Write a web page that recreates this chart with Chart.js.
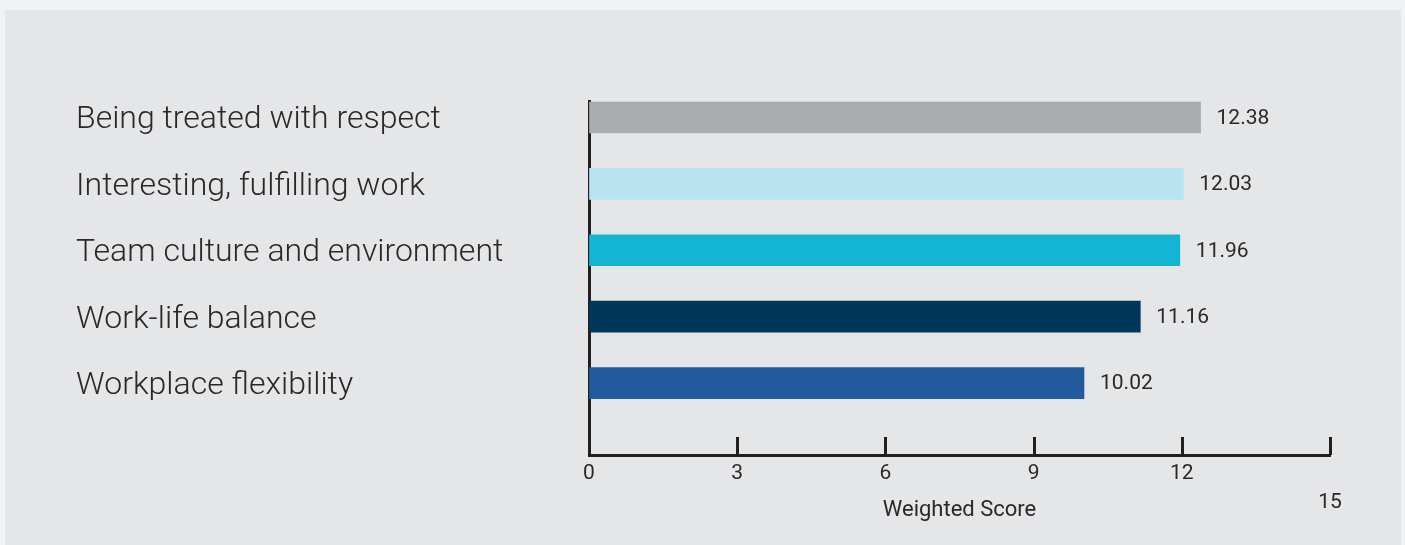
<!DOCTYPE html>
<html>
<head>
<meta charset="utf-8">
<script src="https://cdn.jsdelivr.net/npm/chart.js@4.4.1/dist/chart.umd.min.js"></script>
<style>
  html, body { margin: 0; padding: 0; background: #eef4f4; }
  #wrap { position: absolute; left: 0; top: 0; width: 1405px; height: 545px; }
</style>
</head>
<body>
<div id="wrap"><canvas id="c" width="1405" height="545"></canvas></div>
<script>
const categories = [
  'Being treated with respect',
  'Interesting, fulfilling work',
  'Team culture and environment',
  'Work-life balance',
  'Workplace flexibility'
];
const scores = [12.38, 12.03, 11.96, 11.16, 10.02];
const barColors = ['#abacae', '#b8e3f0', '#12b5d3', '#01375b', '#215b9d'];
const xTickValues = [0, 3, 6, 9, 12, 15];
const xTitle = 'Weighted Score';

const INK = '#231f20';
const TEXT = '#2a2829';

const panelBg = {
  id: 'panelBg',
  beforeDraw(chart) {
    const ctx = chart.ctx;
    ctx.save();
    ctx.fillStyle = '#e5e6e8';
    ctx.fillRect(5, 10, 1396, 535);
    ctx.restore();
  }
};

const innerTicks = {
  id: 'innerTicks',
  afterDraw(chart) {
    const xs = chart.scales.x;
    const ctx = chart.ctx;
    const bottom = chart.chartArea.bottom;
    ctx.save();
    ctx.strokeStyle = INK;
    ctx.lineWidth = 3;
    xs.ticks.forEach(t => {
      const px = Math.round(xs.getPixelForValue(t.value)) + 0.5;
      ctx.beginPath();
      ctx.moveTo(px, bottom);
      ctx.lineTo(px, bottom - 18);
      ctx.stroke();
    });
    ctx.restore();
  }
};

const valueLabels = {
  id: 'valueLabels',
  afterDatasetsDraw(chart) {
    const ctx = chart.ctx;
    const meta = chart.getDatasetMeta(0);
    ctx.save();
    ctx.font = '400 21px Roboto';
    ctx.fillStyle = TEXT;
    ctx.textAlign = 'left';
    ctx.textBaseline = 'middle';
    meta.data.forEach((bar, i) => {
      ctx.fillText(scores[i].toFixed(2), bar.x + 16, bar.y + 1);
    });
    ctx.restore();
  }
};

new Chart(document.getElementById('c'), {
  type: 'bar',
  data: {
    datasets: [{
      data: scores.map((v, i) => ({ x: v, y: i })),
      backgroundColor: barColors,
      borderWidth: 0,
      barThickness: 31
    }]
  },
  options: {
    indexAxis: 'y',
    responsive: false,
    animation: false,
    layout: { padding: { left: 76, right: 75, top: 101, bottom: 0 } },
    plugins: { legend: { display: false }, tooltip: { enabled: false } },
    scales: {
      y: {
        type: 'linear',
        reverse: true,
        offset: false,
        min: -0.248,
        max: 5.083,
        afterBuildTicks(scale) {
          scale.ticks = categories.map((c, i) => ({ value: i }));
        },
        afterFit(scale) { scale.width = 589 - 76; },
        grid: { display: false, drawTicks: false, offset: false },
        border: { display: true, color: INK, width: 3 },
        ticks: {
          autoSkip: false,
          crossAlign: 'far',
          padding: 0,
          labelOffset: 3,
          color: TEXT,
          font: { family: 'Roboto', weight: 300, size: 32 },
          callback: (v) => categories[v]
        }
      },
      x: {
        type: 'linear',
        min: 0,
        max: 15,
        afterBuildTicks(scale) {
          scale.ticks = xTickValues.map(v => ({ value: v }));
        },
        afterFit(scale) { scale.height = 90; },
        grid: { display: true, drawOnChartArea: false, drawTicks: false, color: 'rgba(0,0,0,0)' },
        border: { display: true, color: INK, width: 3 },
        ticks: {
          autoSkip: false,
          maxRotation: 0,
          padding: 5,
          color: TEXT,
          font: { family: 'Roboto', size: 21, lineHeight: 1.35 },
          callback: (v, i, arr) => (i === arr.length - 1 ? ['', String(v)] : String(v))
        },
        title: {
          display: true,
          text: xTitle,
          color: TEXT,
          padding: { top: 0, bottom: 21 },
          font: { family: 'Roboto', size: 22, lineHeight: 1.2 }
        }
      }
    }
  },
  plugins: [panelBg, innerTicks, valueLabels]
});
</script>
</body>
</html>
